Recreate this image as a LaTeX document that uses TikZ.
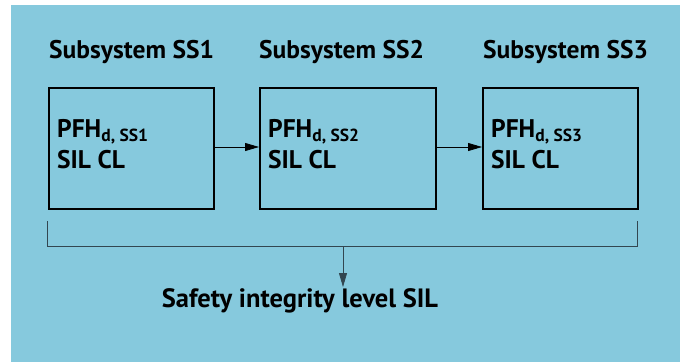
\documentclass[tikz,border=0pt]{standalone}
\usepackage{fontspec}
\setmainfont{PT Sans}
\usetikzlibrary{arrows.meta}
\definecolor{bgblue}{RGB}{134,201,221}
\definecolor{brk}{RGB}{50,70,80}
\newcommand{\subtxt}[1]{\raisebox{-4.5pt}{\fontsize{17.5}{18}\selectfont #1}}
\begin{document}
\begin{tikzpicture}[x=1pt,y=-1pt,
  title/.style={anchor=base west,inner sep=0pt,font=\bfseries\fontsize{25.5}{26}\selectfont},
  sbox/.style={draw=black,line width=2pt,minimum width=165pt,minimum height=121pt,anchor=north west,inner sep=0pt},
  link/.style={line width=0.8pt,-{Triangle[length=14pt,width=8pt]}},
  bracket/.style={draw=brk,line width=0.8pt}]
\useasboundingbox (0,0) rectangle (680,362);
\fill[bgblue] (11,5) rectangle (680,362);
% titles
\node[title] (t1) at (49,58) {Subsystem SS1};
\node[title] (t2) at (259,58) {Subsystem SS2};
\node[title] (t3) at (483,58) {Subsystem SS3};
% boxes
\node[sbox,minimum width=165pt] (b1) at (48,87) {};
\node[sbox,minimum width=176pt] (b2) at (259,87) {};
\node[sbox,minimum width=155pt] (b3) at (482,87) {};
% contents
\node[title] (p1) at (57,137) {PFH\subtxt{d, SS1}};
\node[title] (s1) at (57,168) {SIL CL};
\node[title] (p2) at (268,137) {PFH\subtxt{d, SS2}};
\node[title] (s2) at (268,168) {SIL CL};
\node[title] (p3) at (491,137) {PFH\subtxt{d, SS3}};
\node[title] (s3) at (491,168) {SIL CL};
% arrows
\draw[link] (b1.east |- 0,147) -- (b2.west |- 0,147);
\draw[link] (b2.east |- 0,147) -- (b3.west |- 0,147);
% bracket
\coordinate (bl) at (47,221);
\coordinate (br) at (637,221);
\coordinate (bm) at (343,246);
\draw[bracket] (bl) -- (bl |- bm) -- (br |- bm) -- (br);
\node[title,anchor=base,font=\bfseries\fontsize{26.5}{27}\selectfont] (sil) at (300,307) {Safety integrity level SIL};
\draw[link,draw=brk,fill=black] (bm) -- (343,287);
\end{tikzpicture}
\end{document}
